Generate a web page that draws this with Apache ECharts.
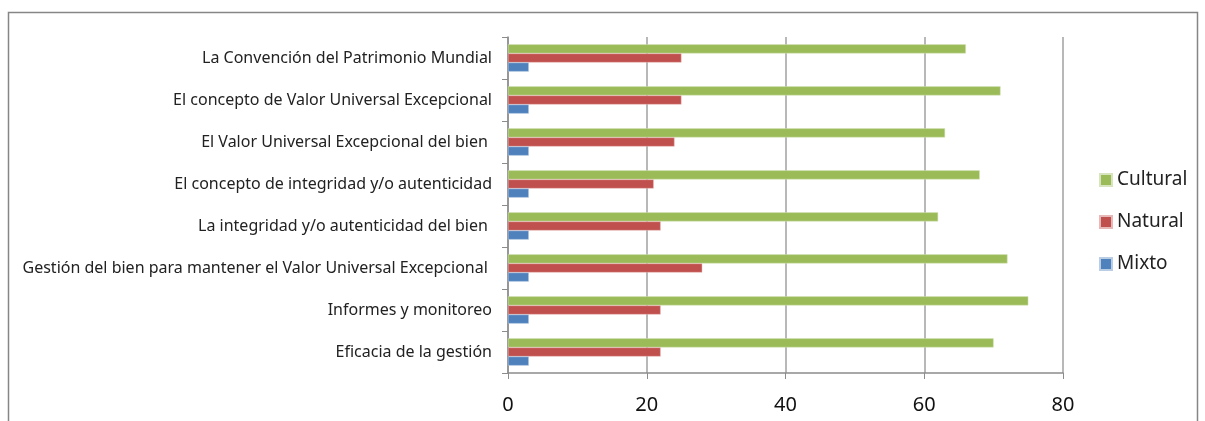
<!DOCTYPE html>
<html><head><meta charset="utf-8">
<script src="https://cdn.jsdelivr.net/npm/echarts@6/dist/echarts.min.js"></script>
<style>html,body{margin:0;padding:0;background:#fff}#c{width:1205px;height:421px}</style>
</head><body><div id="c"></div>
<script>
const categories = [
  "La Convención del Patrimonio Mundial",
  "El concepto de Valor Universal Excepcional",
  "El Valor Universal Excepcional del bien ",
  "El concepto de integridad y/o autenticidad",
  "La integridad y/o autenticidad del bien ",
  "Gestión del bien para mantener el Valor Universal Excepcional ",
  "Informes y monitoreo",
  "Eficacia de la gestión"
];
const cultural = [66, 71, 63, 68, 62, 72, 75, 70];
const natural = [25, 25, 24, 21, 22, 28, 22, 22];
const mixto = [3, 3, 3, 3, 3, 3, 3, 3];
const xTicks = [0, 20, 40, 60, 80];

const chart = echarts.init(document.getElementById('c'), null, {renderer: 'canvas'});
const font = '"Noto Sans", sans-serif';
chart.setOption({
  animation: false,
  textStyle: {fontFamily: font},
  graphic: [{
    type: 'rect', shape: {x: 8.5, y: 12.5, width: 1189, height: 440},
    style: {fill: 'none', stroke: '#868686', lineWidth: 1.5}, silent: true
  }],
  legend: {
    orient: 'vertical', left: 1094, top: 165, itemWidth: 12, itemHeight: 12, itemGap: 22,
    icon: 'rect',
    textStyle: {fontSize: 19, lineHeight: 20, color: '#222', fontFamily: font},
    data: ['Cultural', 'Natural', 'Mixto']
  },
  grid: {left: 508, right: 142, top: 37, bottom: 48},
  xAxis: {
    type: 'value', min: xTicks[0], max: xTicks[xTicks.length - 1], interval: 20,
    axisLine: {show: true, lineStyle: {color: '#8c8c8c', width: 1.5}},
    axisTick: {show: true, length: 6, lineStyle: {color: '#8c8c8c'}},
    axisLabel: {fontSize: 20, color: '#111', margin: 22, fontFamily: font},
    splitLine: {show: true, lineStyle: {color: '#a0a0a0', width: 1.5}}
  },
  yAxis: {
    type: 'category', data: categories, inverse: true,
    axisLine: {show: true, lineStyle: {color: '#8c8c8c', width: 1.5}},
    axisTick: {show: true, length: 6, lineStyle: {color: '#8c8c8c'}},
    axisLabel: {fontSize: 16, color: '#222', margin: 16, fontFamily: font}
  },
  series: [
    {name: 'Cultural', type: 'bar', data: cultural, barCategoryGap: '35%', barGap: '0%',
     itemStyle: {color: '#9BBB59', borderColor: '#d7e4bd', borderWidth: 0.5}},
    {name: 'Natural', type: 'bar', data: natural, barCategoryGap: '35%', barGap: '0%',
     itemStyle: {color: '#C0504D', borderColor: '#e6b9b8', borderWidth: 0.5}},
    {name: 'Mixto', type: 'bar', data: mixto, barCategoryGap: '35%', barGap: '0%',
     itemStyle: {color: '#4F81BD', borderColor: '#b9cde5', borderWidth: 0.5}}
  ]
});
</script></body></html>
